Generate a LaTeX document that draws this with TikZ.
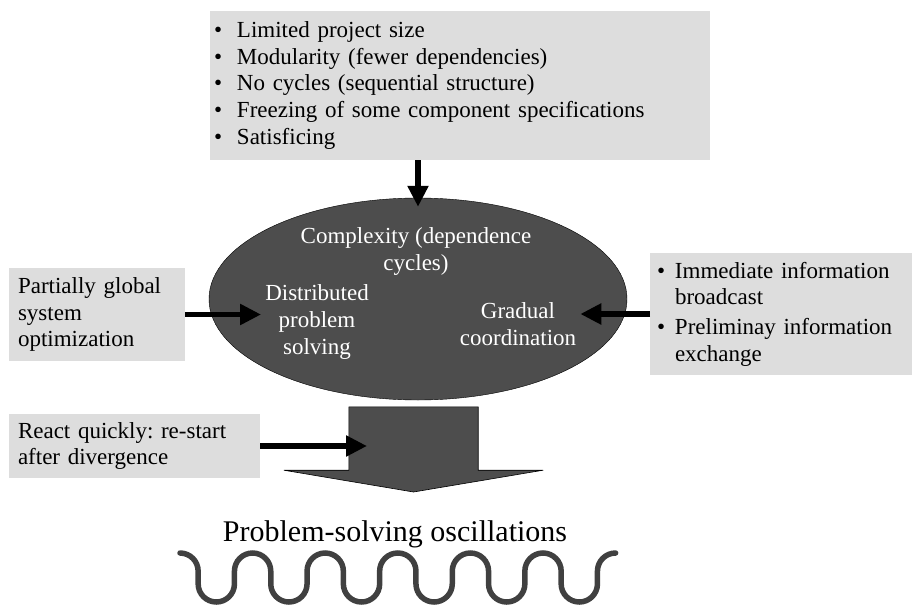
\documentclass[tikz,border=0pt]{standalone}
\usepackage{fontspec}
\setmainfont{Liberation Serif}
\usepackage{tikz}
\usetikzlibrary{arrows.meta, positioning, shapes.geometric, calc}

\definecolor{boxgray}{HTML}{DDDDDD}
\definecolor{darkfill}{HTML}{4D4D4D}
\definecolor{wavegray}{HTML}{404040}
\newcommand{\bodyfont}{\fontsize{23}{26.7}\selectfont}
\newcommand{\bul}[1][23pt]{\makebox[#1][l]{\textbullet}}
\frenchspacing

\begin{document}
\begin{tikzpicture}[x=1pt, y=-1pt,
        gbox/.style={rectangle, fill=boxgray, anchor=north west, align=left,
            inner ysep=0pt, outer sep=0pt, font=\bodyfont},
        intext/.style={align=center, text=white, inner sep=4pt, anchor=base, font=\bodyfont},
        arr/.style={line width=5.5pt, -{Triangle[length=21pt, width=20pt]}},
        >=Stealth
    ]
        \useasboundingbox (0,0) rectangle (912,608);

        \node[gbox, inner xsep=4pt, text width=492pt, minimum height=149pt] (limits) at (210,11)
            {\bul Limited project size\\ \bul Modularity (fewer dependencies)\\
             \bul No cycles (sequential structure)\\ \bul Freezing of some component specifications\\
             \bul Satisficing};
        \node[ellipse, draw, fill=darkfill, minimum width=418pt, minimum height=202pt, inner sep=0pt] (ell) at (418,299) {};
        \node[intext] (cplx) at (416,270) {Complexity (dependence\\cycles)};
        \node[intext] (dist) at (317,354) {Distributed\\problem\\solving};
        \node[intext] (grad) at (518,345) {Gradual\\coordination};

        \node[gbox, inner xsep=9pt, text width=158pt, minimum height=93pt] (sysopt) at (9,268)
            {Partially global\\system\\optimization};
        \node[gbox, inner xsep=7pt, text width=248pt, minimum height=122pt] (info) at (650,253)
            {\bul[18pt]Immediate information\\ \hspace*{18pt}broadcast\\[3pt]
             \bul[18pt]Preliminay information\\ \hspace*{18pt}exchange};
        \node[gbox, inner xsep=9pt, text width=233pt, minimum height=64pt] (react) at (9,414)
            {React quickly: re-start\\after divergence};

        \node[minimum width=129pt, minimum height=63pt, inner sep=0pt] (stem) at (413.5,438.5) {};
        \coordinate (tip) at (413.5,492);
        \coordinate (hit) at (367,446);
        \filldraw[fill=darkfill, draw=black, line width=0.6pt]
            (stem.north west) -- (stem.north east) -- (stem.south east) -- ++(65,0)
            -- (tip) -- ($(stem.south west)+(-65,0)$) -- (stem.south west) -- cycle;

        \node[anchor=base, font=\fontsize{30}{36}\selectfont] (title) at (395,541) {Problem-solving oscillations};

        \draw[arr, shorten >=-9pt] (limits.south -| ell.north) -- (ell.north);
        \draw[arr] (sysopt.east) -- (sysopt.east -| dist.west);
        \draw[arr] (info.west) -- (info.west -| grad.east);
        \draw[arr] (react.east) -- (hit);

        \draw[wavegray, line width=5.5pt, line cap=round] (180,553) arc[start angle=-90, end angle=0, radius=18.15]
            \foreach \i in {1,...,5} {
                -- ++(0,12.7) arc[start angle=180, end angle=0, radius=18.15]
                -- ++(0,-12.7) arc[start angle=180, end angle=360, radius=18.15]
            }
            -- ++(0,12.7) arc[start angle=180, end angle=0, radius=18.15]
            -- ++(0,-12.7) arc[start angle=180, end angle=270, radius=18.15];
    \end{tikzpicture}
\end{document}
